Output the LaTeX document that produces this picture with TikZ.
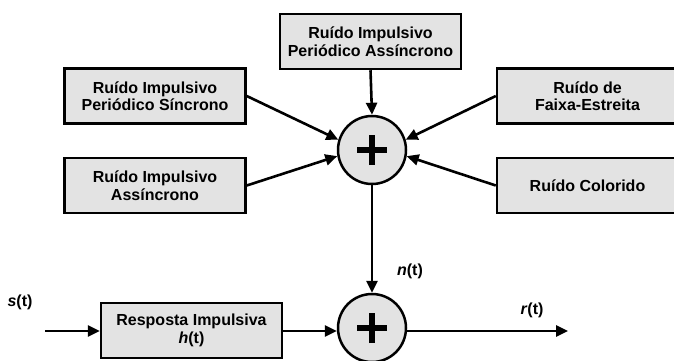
\documentclass[tikz,border=0pt]{standalone}
\usepackage{fontspec}
\setmainfont{Liberation Sans}
\usetikzlibrary{arrows.meta}
\begin{document}
\begin{tikzpicture}[x=1pt,y=-1pt,
  blk/.style={draw=black,line width=2.5pt,fill=gray!22,minimum width=181pt,minimum height=55pt,
    align=center,inner sep=0pt,font=\bfseries\fontsize{16}{17.5}\selectfont},
  summ/.style={draw=black,line width=2.5pt,fill=gray!22,circle,minimum size=68pt,inner sep=0pt},
  conn/.style={line width=2.6pt,-{Triangle[length=12pt,width=11pt]}},
  lbl/.style={font=\bfseries\fontsize{16}{17}\selectfont,inner sep=0pt}]
\useasboundingbox (0,0) rectangle (674,360);
\clip (0,0) rectangle (674,360);
\node[blk] (top) at (370.5,41.5) {Ruído Impulsivo\\Periódico Assíncrono};
\node[blk] (lu) at (155,96) {Ruído Impulsivo\\Periódico Síncrono};
\node[blk] (ll) at (155,185.5) {Ruído Impulsivo\\Assíncrono};
\node[blk] (ru) at (587.5,96) {Ruído de\\Faixa-Estreita};
\node[blk] (rl) at (587.5,185.5) {Ruído Colorido};
\node[summ] (s1) at (372,150) {};
\node[summ] (s2) at (372,328) {};
\node[blk] (h) at (191.5,330.5) {Resposta Impulsiva\\\textit{h}(t)};
\foreach \s in {s1,s2}{
  \draw[line width=5.5pt] ([xshift=-15pt]\s.center) -- ([xshift=15pt]\s.center);
  \draw[line width=5.5pt] ([yshift=-15pt]\s.center) -- ([yshift=15pt]\s.center);
}
\coordinate (in) at (45,331);
\coordinate (out) at (568,331);
\draw[conn] (top.south) -- (s1.north);
\draw[conn] (lu.east) -- (s1.163);
\draw[conn] (ll.east) -- (s1.190);
\draw[conn] (ru.west) -- (s1.17);
\draw[conn] (rl.west) -- (s1.350);
\draw[conn] (s1.south) -- (s2.north);
\draw[conn] (in) -- (h.west |- in);
\draw[conn] (h.east |- in) -- (s2.west |- in);
\draw[conn] (s2.east |- out) -- (out);
\node[lbl] (nt) at (410,271) {\textit{n}(t)};
\node[lbl] (st) at (20,302) {\textit{s}(t)};
\node[lbl] (rt) at (532,310) {\textit{r}(t)};
\end{tikzpicture}
\end{document}
